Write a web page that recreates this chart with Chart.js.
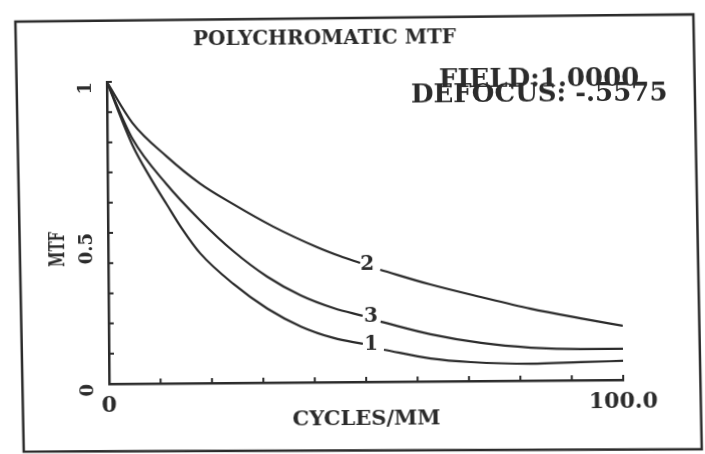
<!DOCTYPE html>
<html>
<head>
<meta charset="utf-8">
<script src="https://cdn.jsdelivr.net/npm/chart.js@4.4.1/dist/chart.umd.min.js"></script>
<style>
  html, body { margin: 0; padding: 0; background: #fff; overflow: hidden; }
  #wrap { width: 705px; height: 454px; position: relative; transform: rotate(-0.45deg); }
</style>
</head>
<body>
<div id="wrap"><canvas id="chart_polyMtf"></canvas></div>
<script>
// spatial frequency (cycles/mm) and MTF for each field curve; null = break for the curve number
var cycles1 = [0, 4.9, 8.2, 11.5, 14.4, 17.9, 24.3, 30.9, 37.4, 43.8, 49.4, 51.5, 53.5, 62.6, 70.4, 82.1, 91.8, 100];
var mtf1    = [1, 0.790, 0.685, 0.592, 0.512, 0.430, 0.328, 0.245, 0.185, 0.146, 0.126, null, 0.106, 0.076, 0.063, 0.056, 0.060, 0.063];

var cycles2 = [0, 4.9, 11.5, 17.9, 24.3, 32.1, 40.7, 45.1, 49.0, 51.0, 52.9, 62.6, 72.4, 82.1, 91.8, 100];
var mtf2    = [1, 0.864, 0.752, 0.662, 0.593, 0.517, 0.447, 0.417, 0.394, null, 0.371, 0.321, 0.278, 0.238, 0.205, 0.179];

var cycles3 = [0, 4.9, 11.5, 17.9, 24.3, 30.9, 37.4, 43.8, 49.4, 51.0, 52.9, 62.6, 72.4, 82.1, 91.8, 100];
var mtf3    = [1, 0.811, 0.659, 0.540, 0.437, 0.351, 0.288, 0.245, 0.219, null, 0.199, 0.156, 0.126, 0.109, 0.103, 0.103];

// curve numbers, written where each curve is broken
var curveNames = ['1', '2', '3'];
var curveNameX = [51.0, 50.4, 51.0];
var curveNameY = [0.123, 0.387, 0.215];

var xTickText = { 0: '0', 100: '100.0' };
var yTickText = ['0', '0.5', '1'];

var ink = '#2b2b2b';
var face = 'DejaVu Serif';

function pairs(xs, ys) {
    return xs.map(function (x, i) { return { x: x, y: ys[i] }; });
}

function curve(label, xs, ys) {
    return {
        label: label,
        data: pairs(xs, ys),
        borderColor: ink,
        borderWidth: 2.2,
        pointRadius: 0,
        cubicInterpolationMode: 'monotone',
        spanGaps: false,
        fill: false
    };
}

var chart_polyMtf = new Chart(document.getElementById('chart_polyMtf'), {
    type: 'line',
    data: {
        datasets: [
            curve('1', cycles1, mtf1),
            curve('2', cycles2, mtf2),
            curve('3', cycles3, mtf3)
        ]
    },
    options: {
        animation: false,
        responsive: true,
        maintainAspectRatio: false,
        layout: {
            padding: { left: 30, right: 83, top: 0, bottom: 0 }
        },
        plugins: {
            legend: { display: false },
            tooltip: { enabled: false },
            title: {
                display: true,
                text: 'POLYCHROMATIC MTF',
                color: ink,
                font: { family: face, size: 20, weight: 'bold' },
                padding: { top: 27, bottom: 29 }
            }
        },
        scales: {
            x: {
                type: 'linear',
                min: 0,
                max: 100,
                grid: { display: false, drawTicks: false },
                border: { display: true, color: ink, width: 2.5 },
                ticks: {
                    stepSize: 10,
                    autoSkip: false,
                    maxRotation: 0,
                    padding: 9,
                    color: ink,
                    font: { family: face, size: 22, weight: 'bold' },
                    callback: function (v) { return xTickText[v] !== undefined ? xTickText[v] : ''; }
                },
                title: {
                    display: true,
                    text: 'CYCLES/MM',
                    color: ink,
                    font: { family: face, size: 21, weight: 'bold' },
                    padding: { top: 0, bottom: 22 }
                },
                afterFit: function (scale) { scale.height = 72; }
            },
            y: {
                min: 0,
                max: 1,
                grid: { display: false, drawTicks: false },
                border: { display: true, color: ink, width: 2.5 },
                ticks: {
                    stepSize: 0.1,
                    autoSkip: false,
                    minRotation: 90,
                    maxRotation: 90,
                    padding: 21,
                    color: ink,
                    font: { family: face, size: 18, weight: 'bold' },
                    callback: function (v) {
                        var k = Math.round(v * 10);
                        if (k === 0) return yTickText[0];
                        if (k === 5) return yTickText[1];
                        if (k === 10) return yTickText[2];
                        return '';
                    }
                },
                afterFit: function (scale) { scale.width = 78; }
            }
        }
    },
    plugins: [{
        id: 'paperAndFrame',
        beforeDraw: function (chart) {
            var ctx = chart.ctx;
            ctx.save();
            ctx.fillStyle = '#fff';
            ctx.fillRect(0, 0, chart.width, chart.height);
            // border printed round the plot
            ctx.strokeStyle = ink;
            ctx.lineWidth = 2.5;
            ctx.beginPath();
            ctx.moveTo(17, 19);
            ctx.lineTo(695, 17);
            ctx.lineTo(700, 452);
            ctx.lineTo(22, 449);
            ctx.closePath();
            ctx.stroke();
            ctx.restore();
        }
    }, {
        id: 'insideTicks',
        afterDraw: function (chart) {
            var ctx = chart.ctx;
            var area = chart.chartArea;
            var xs = chart.scales.x, ys = chart.scales.y;
            ctx.save();
            ctx.strokeStyle = ink;
            ctx.lineWidth = 2;
            ctx.beginPath();
            xs.ticks.forEach(function (t, i) {
                if (i === 0) return;
                var px = xs.getPixelForTick(i);
                ctx.moveTo(px, area.bottom);
                ctx.lineTo(px, area.bottom - 5);
            });
            ys.ticks.forEach(function (t, i) {
                if (i === 0) return;
                var py = ys.getPixelForTick(i);
                ctx.moveTo(area.left, py);
                ctx.lineTo(area.left + 5, py);
            });
            ctx.stroke();
            ctx.restore();
        }
    }, {
        id: 'notes',
        afterDatasetsDraw: function (chart) {
            var ctx = chart.ctx;
            var xs = chart.scales.x, ys = chart.scales.y;
            ctx.save();
            ctx.fillStyle = ink;
            ctx.textAlign = 'center';
            ctx.textBaseline = 'middle';
            ctx.font = 'bold 20px "' + face + '"';
            curveNames.forEach(function (name, i) {
                ctx.fillText(name, xs.getPixelForValue(curveNameX[i]), ys.getPixelForValue(curveNameY[i]));
            });

            // y axis name, printed narrow and reading upwards
            ctx.save();
            ctx.translate(58, 247);
            ctx.rotate(-Math.PI / 2);
            ctx.scale(0.62, 1);
            ctx.font = 'bold 22px "' + face + '"';
            ctx.fillText('MTF', 0, 0);
            ctx.restore();

            ctx.textAlign = 'left';
            ctx.textBaseline = 'alphabetic';
            ctx.font = 'bold 26px "' + face + '"';
            ctx.fillText('FIELD:1.0000', 440, 88);
            ctx.fillText('DEFOCUS: -.5575', 412, 103);
            ctx.restore();
        }
    }]
});
</script>
</body>
</html>
